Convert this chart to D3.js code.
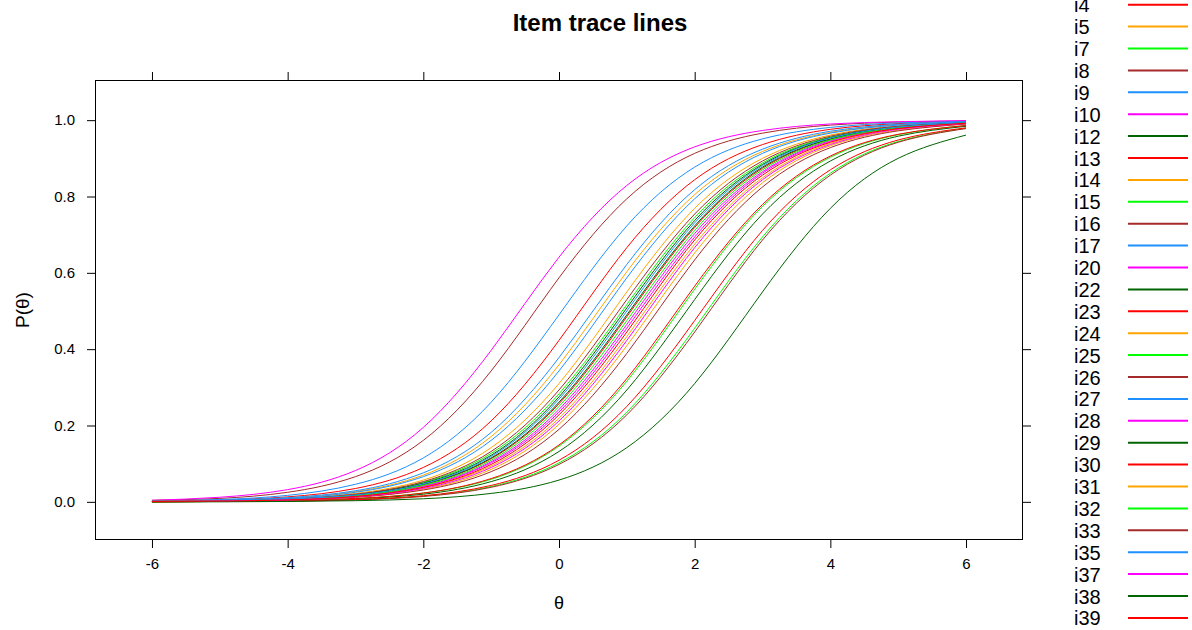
<!DOCTYPE html>
<html>
<head>
<meta charset="utf-8">
<title>Item trace lines</title>
<style>
  body { margin: 0; background: #fff; }
  text { font-family: "Liberation Sans", Arial, sans-serif; fill: #000; }
</style>
</head>
<body>
<svg width="1192" height="630"></svg>
<script src="https://d3js.org/d3.v7.min.js"></script>
<script>

// theta grid and tick labels
var theta = [-6, -5, -4, -3, -2, -1, 0, 1, 2, 3, 4, 5, 6];
var xTicks = [-6, -4, -2, 0, 2, 4, 6];
var yTicks = [0, 0.2, 0.4, 0.6, 0.8, 1.0];

var items = ["i4", "i5", "i7", "i8", "i9", "i10", "i12", "i13", "i14", "i15",
             "i16", "i17", "i20", "i22", "i23", "i24", "i25", "i26", "i27", "i28",
             "i29", "i30", "i31", "i32", "i33", "i35", "i37", "i38", "i39"];

// P(theta) for each item at theta = -6..6
var probs = [
  [0.002, 0.005, 0.013, 0.035, 0.090, 0.212, 0.423, 0.666, 0.844, 0.936, 0.976, 0.991, 0.997], // i4
  [0.001, 0.004, 0.010, 0.027, 0.070, 0.171, 0.359, 0.603, 0.805, 0.918, 0.968, 0.988, 0.996], // i5
  [0.001, 0.003, 0.007, 0.019, 0.051, 0.127, 0.283, 0.517, 0.745, 0.888, 0.956, 0.983, 0.994], // i7
  [0.004, 0.009, 0.025, 0.066, 0.161, 0.343, 0.587, 0.794, 0.913, 0.966, 0.987, 0.995, 0.998], // i8
  [0.002, 0.006, 0.017, 0.046, 0.115, 0.261, 0.490, 0.723, 0.877, 0.951, 0.981, 0.993, 0.997], // i9
  [0.004, 0.012, 0.032, 0.082, 0.195, 0.397, 0.641, 0.829, 0.930, 0.973, 0.990, 0.996, 0.999], // i10
  [0.001, 0.003, 0.007, 0.019, 0.049, 0.122, 0.275, 0.508, 0.737, 0.884, 0.954, 0.983, 0.994], // i12
  [0.001, 0.002, 0.006, 0.017, 0.045, 0.113, 0.257, 0.485, 0.719, 0.874, 0.950, 0.981, 0.993], // i13
  [0.001, 0.003, 0.008, 0.022, 0.057, 0.142, 0.310, 0.550, 0.769, 0.900, 0.961, 0.985, 0.995], // i14
  [0.000, 0.001, 0.003, 0.008, 0.023, 0.059, 0.146, 0.316, 0.557, 0.774, 0.903, 0.962, 0.986], // i15
  [0.001, 0.003, 0.008, 0.020, 0.053, 0.132, 0.293, 0.530, 0.754, 0.893, 0.958, 0.984, 0.994], // i16
  [0.002, 0.004, 0.011, 0.029, 0.076, 0.182, 0.378, 0.622, 0.818, 0.924, 0.971, 0.989, 0.996], // i17
  [0.001, 0.002, 0.006, 0.016, 0.041, 0.105, 0.242, 0.465, 0.703, 0.865, 0.946, 0.979, 0.992], // i20
  [0.000, 0.001, 0.003, 0.008, 0.020, 0.053, 0.132, 0.293, 0.530, 0.754, 0.893, 0.958, 0.984], // i22
  [0.000, 0.001, 0.003, 0.009, 0.023, 0.061, 0.149, 0.323, 0.565, 0.779, 0.906, 0.963, 0.986], // i23
  [0.001, 0.002, 0.005, 0.014, 0.037, 0.094, 0.219, 0.433, 0.675, 0.849, 0.939, 0.977, 0.991], // i24
  [0.000, 0.001, 0.002, 0.006, 0.015, 0.040, 0.102, 0.235, 0.455, 0.694, 0.861, 0.944, 0.979], // i25
  [0.000, 0.001, 0.002, 0.005, 0.014, 0.038, 0.098, 0.228, 0.445, 0.686, 0.856, 0.942, 0.978], // i26
  [0.001, 0.004, 0.009, 0.025, 0.066, 0.161, 0.343, 0.587, 0.794, 0.913, 0.966, 0.987, 0.995], // i27
  [0.001, 0.002, 0.006, 0.015, 0.040, 0.102, 0.235, 0.455, 0.694, 0.861, 0.944, 0.979, 0.992], // i28
  [0.001, 0.002, 0.006, 0.017, 0.046, 0.115, 0.261, 0.490, 0.723, 0.877, 0.951, 0.981, 0.993], // i29
  [0.000, 0.001, 0.002, 0.006, 0.016, 0.043, 0.109, 0.250, 0.475, 0.711, 0.870, 0.948, 0.980], // i30
  [0.001, 0.002, 0.005, 0.012, 0.033, 0.085, 0.203, 0.409, 0.652, 0.836, 0.933, 0.974, 0.990], // i31
  [0.001, 0.002, 0.006, 0.016, 0.043, 0.109, 0.250, 0.475, 0.711, 0.870, 0.948, 0.980, 0.993], // i32
  [0.001, 0.002, 0.004, 0.012, 0.031, 0.079, 0.190, 0.389, 0.634, 0.825, 0.928, 0.972, 0.990], // i33
  [0.001, 0.002, 0.007, 0.018, 0.047, 0.119, 0.269, 0.500, 0.731, 0.881, 0.953, 0.982, 0.993], // i35
  [0.001, 0.002, 0.005, 0.013, 0.035, 0.090, 0.212, 0.423, 0.666, 0.844, 0.936, 0.976, 0.991], // i37
  [0.000, 0.000, 0.001, 0.003, 0.008, 0.022, 0.057, 0.142, 0.310, 0.550, 0.769, 0.900, 0.961], // i38
  [0.001, 0.002, 0.005, 0.014, 0.038, 0.098, 0.228, 0.445, 0.686, 0.856, 0.942, 0.978, 0.992]  // i39
];

// lattice superpose colours, recycled
var palette = ["#ff0000", "#ffa500", "#00ff00", "#a52a2a", "#1e90ff", "#ff00ff", "#006400"];

var svg = d3.select("svg"),
    panel = {left: 95, right: 1023, top: 80, bottom: 540};

var x = d3.scaleLinear().domain([-6.84, 6.84]).range([panel.left, panel.right]);
var y = d3.scaleLinear().domain([-0.1, 1.1]).range([panel.bottom, panel.top + 2]);

// title
svg.append("text")
    .attr("x", 600)
    .attr("y", 31)
    .attr("text-anchor", "middle")
    .style("font-size", "24px")
    .style("font-weight", "bold")
    .text("Item trace lines");

// axes on all four sides, labels only bottom / left
function styleAxis(g) {
  g.select(".domain").remove();
  g.selectAll(".tick line").attr("stroke", "#000");
  g.selectAll(".tick text").style("font-size", "15px").attr("fill", "#000");
}

svg.append("g")
    .attr("transform", "translate(0," + panel.bottom + ")")
    .call(d3.axisBottom(x).tickValues(xTicks).tickSize(8).tickPadding(10).tickFormat(function(d) { return String(d); }))
    .call(styleAxis);

svg.append("g")
    .attr("transform", "translate(0," + panel.top + ")")
    .call(d3.axisTop(x).tickValues(xTicks).tickSize(8).tickFormat(""))
    .call(styleAxis);

svg.append("g")
    .attr("transform", "translate(" + panel.left + ",0)")
    .call(d3.axisLeft(y).tickValues(yTicks).tickSize(8).tickPadding(12).tickFormat(d3.format(".1f")))
    .call(styleAxis);

svg.append("g")
    .attr("transform", "translate(" + panel.right + ",0)")
    .call(d3.axisRight(y).tickValues(yTicks).tickSize(8).tickFormat(""))
    .call(styleAxis);

svg.append("rect")
    .attr("x", panel.left + 0.5)
    .attr("y", panel.top + 0.5)
    .attr("width", panel.right - panel.left - 1)
    .attr("height", panel.bottom - panel.top - 1)
    .attr("fill", "none")
    .attr("stroke", "#000");

// axis labels
svg.append("text")
    .attr("x", x(0))
    .attr("y", 609)
    .attr("text-anchor", "middle")
    .style("font-size", "18px")
    .text("θ");

svg.append("text")
    .attr("transform", "translate(29," + ((panel.top + panel.bottom) / 2) + ") rotate(-90)")
    .attr("text-anchor", "middle")
    .style("font-size", "19px")
    .text("P(θ)");

// trace lines
var line = d3.line()
    .x(function(d, i) { return x(theta[i]); })
    .y(function(d) { return y(d); })
    .curve(d3.curveNatural);

svg.append("g")
  .selectAll("path")
  .data(probs)
  .join("path")
    .attr("fill", "none")
    .attr("stroke", function(d, i) { return palette[i % palette.length]; })
    .attr("stroke-width", 1)
    .attr("d", line);

// legend (runs off the top of the canvas like the original)
var leg = svg.append("g")
  .selectAll("g")
  .data(items)
  .join("g")
    .attr("transform", function(d, i) { return "translate(0," + (4.7 + i * 21.9) + ")"; });

leg.append("text")
    .attr("x", 1074)
    .attr("y", 7.5)
    .style("font-size", "20px")
    .text(function(d) { return d; });

leg.append("line")
    .attr("x1", 1128)
    .attr("x2", 1188)
    .attr("stroke", function(d, i) { return palette[i % palette.length]; })
    .attr("stroke-width", 2);

</script>
</body>
</html>
